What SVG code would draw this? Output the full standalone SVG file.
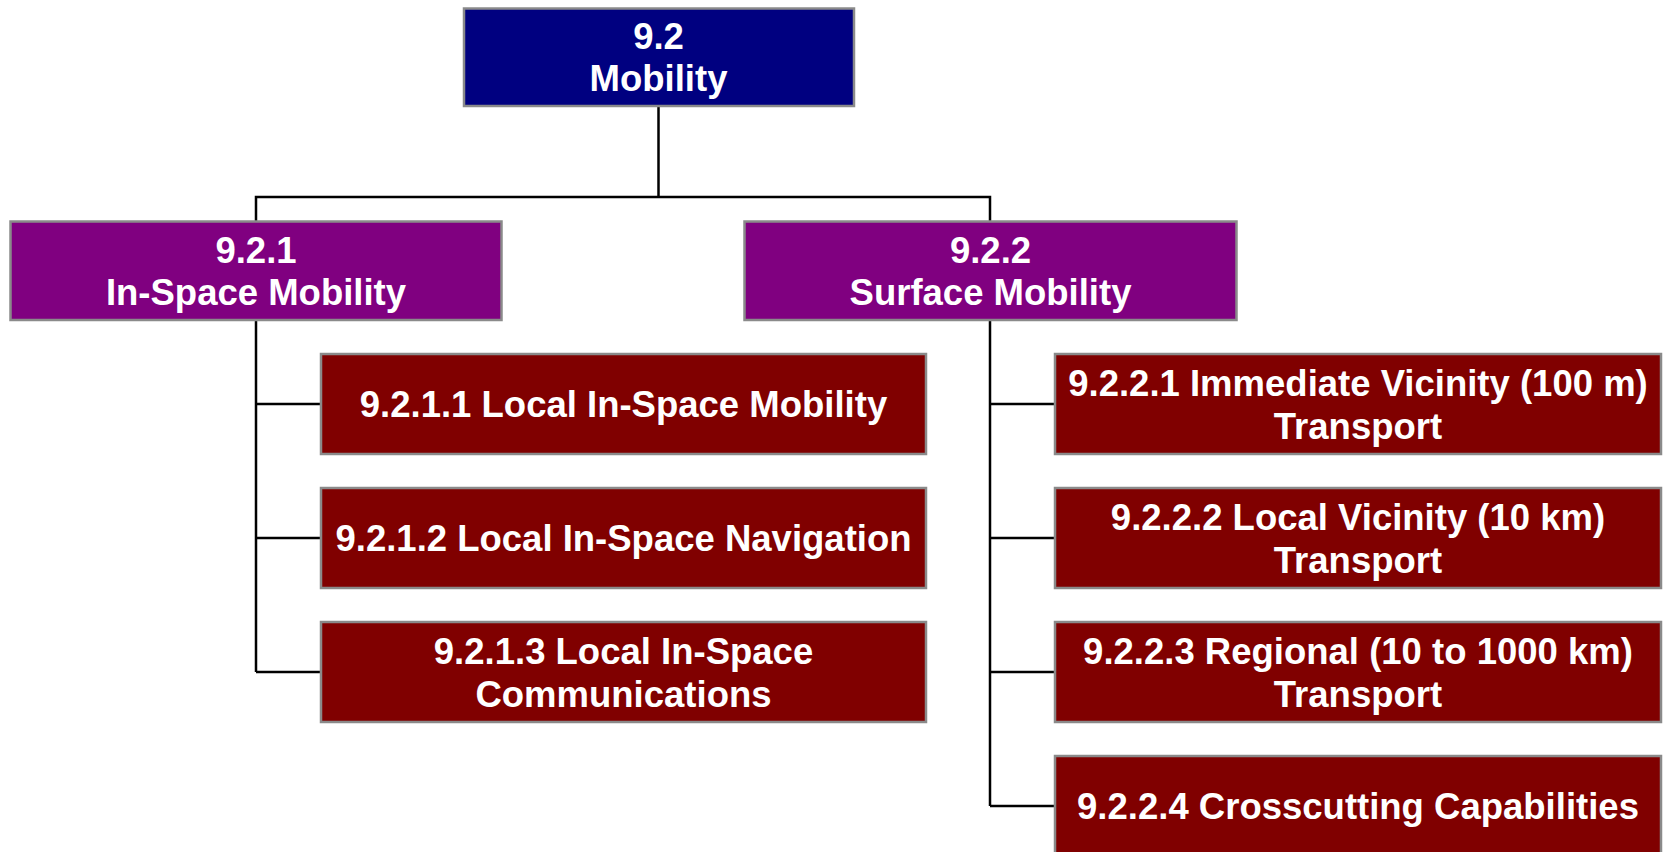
<svg xmlns="http://www.w3.org/2000/svg" width="1667" height="852" viewBox="0 0 1667 852">
<style>
.box{stroke:#8a8a8a;stroke-width:2.5}
.l1{fill:#000080}
.l2{fill:#800080}
.l3{fill:#800000}
.t{font-family:"Liberation Sans",Arial,sans-serif;font-weight:bold;font-size:36.5px;fill:#ffffff;text-anchor:middle}
.c{stroke:#000000;stroke-width:2.5;fill:none}
</style>
<rect width="1667" height="852" fill="#ffffff"/>
<g id="connectors">
<polyline class="c" points="658.5,106 658.5,197"/>
<polyline class="c" points="256,221 256,197 990,197 990,221"/>
<polyline class="c" points="256,320 256,672"/>
<line class="c" x1="256" y1="404" x2="321" y2="404"/>
<line class="c" x1="256" y1="538" x2="321" y2="538"/>
<line class="c" x1="256" y1="672" x2="321" y2="672"/>
<polyline class="c" points="990,320 990,806"/>
<line class="c" x1="990" y1="404" x2="1055" y2="404"/>
<line class="c" x1="990" y1="538" x2="1055" y2="538"/>
<line class="c" x1="990" y1="672" x2="1055" y2="672"/>
<line class="c" x1="990" y1="806" x2="1055" y2="806"/>
</g>
<g id="n92">
<rect class="box l1" x="464" y="8.5" width="390" height="97.5"/>
<text class="t" x="658.5" y="49">9.2</text>
<text class="t" x="658.5" y="91">Mobility</text>
</g>
<g id="n921">
<rect class="box l2" x="10.5" y="221.5" width="491" height="98.5"/>
<text class="t" x="256" y="263">9.2.1</text>
<text class="t" x="256" y="305">In-Space Mobility</text>
</g>
<g id="n922">
<rect class="box l2" x="744.5" y="221.5" width="492" height="98.5"/>
<text class="t" x="990.5" y="263">9.2.2</text>
<text class="t" x="990.5" y="305">Surface Mobility</text>
</g>
<g id="n9211">
<rect class="box l3" x="321" y="354" width="605" height="100"/>
<text class="t" x="623.5" y="417">9.2.1.1 Local In-Space Mobility</text>
</g>
<g id="n9212">
<rect class="box l3" x="321" y="488" width="605" height="100"/>
<text class="t" x="623.5" y="551">9.2.1.2 Local In-Space Navigation</text>
</g>
<g id="n9213">
<rect class="box l3" x="321" y="622" width="605" height="100"/>
<text class="t" x="623.5" y="664">9.2.1.3 Local In-Space</text>
<text class="t" x="623.5" y="707">Communications</text>
</g>
<g id="n9221">
<rect class="box l3" x="1055" y="354" width="606" height="100"/>
<text class="t" x="1358" y="396">9.2.2.1 Immediate Vicinity (100 m)</text>
<text class="t" x="1358" y="439">Transport</text>
</g>
<g id="n9222">
<rect class="box l3" x="1055" y="488" width="606" height="100"/>
<text class="t" x="1358" y="530">9.2.2.2 Local Vicinity (10 km)</text>
<text class="t" x="1358" y="573">Transport</text>
</g>
<g id="n9223">
<rect class="box l3" x="1055" y="622" width="606" height="100"/>
<text class="t" x="1358" y="664">9.2.2.3 Regional (10 to 1000 km)</text>
<text class="t" x="1358" y="707">Transport</text>
</g>
<g id="n9224">
<rect class="box l3" x="1055" y="756" width="606" height="100"/>
<text class="t" x="1358" y="819">9.2.2.4 Crosscutting Capabilities</text>
</g>
</svg>
